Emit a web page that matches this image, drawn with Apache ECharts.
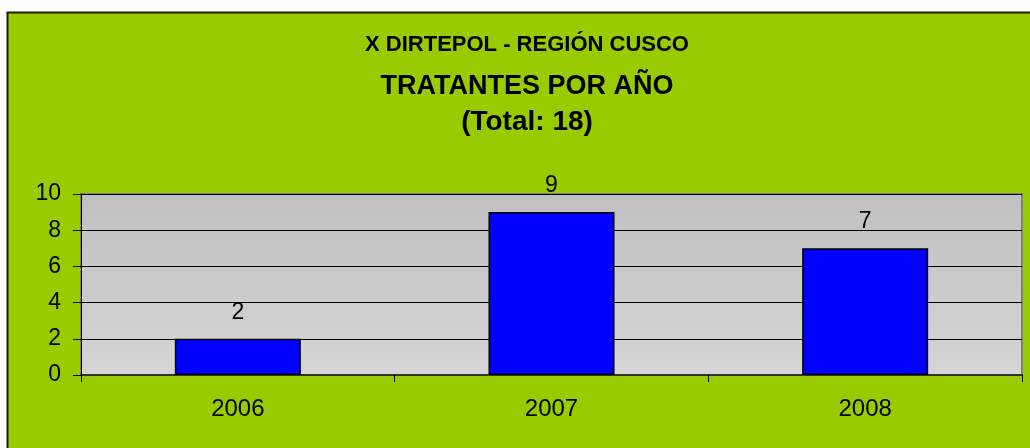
<!DOCTYPE html>
<html>
<head>
<meta charset="utf-8">
<script src="https://cdn.jsdelivr.net/npm/echarts@6/dist/echarts.min.js"></script>
<style>
html,body{margin:0;padding:0;background:#ffffff;}
#c{width:1030px;height:448px;}
</style>
</head>
<body>
<div id="c"></div>
<script>
const categories = ['2006', '2007', '2008'];
const values = [2, 9, 7];
const titleLines = ['X DIRTEPOL - REGIÓN CUSCO', 'TRATANTES POR AÑO', '(Total: 18)'];
const yTicks = [0, 2, 4, 6, 8, 10];

const FONT = '"Liberation Sans", Arial, sans-serif';
const chart = echarts.init(document.getElementById('c'));
function titleText(txt, y, size) {
  return {
    type: 'text', silent: true, z: 10,
    style: {
      text: txt, x: 527, y: y, textAlign: 'center', textVerticalAlign: 'middle',
      font: 'bold ' + size + 'px ' + FONT, fill: '#000'
    }
  };
}
chart.setOption({
  backgroundColor: '#ffffff',
  animation: false,
  graphic: [{
    type: 'rect',
    z: -10,
    silent: true,
    shape: { x: 7.5, y: 12.5, width: 1040, height: 460 },
    style: { fill: '#99CC00', stroke: '#1a1a1a', lineWidth: 2 }
  },
    titleText(titleLines[0], 45, 22),
    titleText(titleLines[1], 87, 27),
    titleText(titleLines[2], 122, 28)
  ],
  grid: {
    left: 81, right: 8, top: 194, bottom: 73,
    show: true,
    backgroundColor: new echarts.graphic.LinearGradient(0, 0, 0, 1, [
      { offset: 0, color: '#c0c0c0' },
      { offset: 1, color: '#d5d5d5' }
    ]),
    borderColor: '#808080',
    borderWidth: 2
  },
  xAxis: {
    type: 'category',
    data: categories,
    axisLine: { show: true, lineStyle: { color: '#333', width: 2 } },
    axisTick: { show: true, alignWithLabel: false, length: 7, lineStyle: { color: '#000', width: 1 } },
    axisLabel: { fontFamily: FONT, fontSize: 24, color: '#000', margin: 22 },
    splitLine: { show: false }
  },
  yAxis: {
    type: 'value',
    min: yTicks[0], max: yTicks[yTicks.length - 1], interval: 2,
    axisLine: { show: true, lineStyle: { color: '#000', width: 1 } },
    axisTick: { show: true, length: 8, lineStyle: { color: '#000', width: 1 } },
    axisLabel: { fontFamily: FONT, fontSize: 23, color: '#000', margin: 20 },
    splitLine: { show: true, lineStyle: { color: '#000', width: 1 } }
  },
  series: [{
    type: 'bar',
    data: values,
    barWidth: 126,
    itemStyle: { color: '#0000FF', borderColor: '#000', borderWidth: 1.5 },
    label: { show: true, position: 'top', distance: 15, fontFamily: FONT, fontSize: 23, color: '#000' }
  }]
});
</script>
</body>
</html>
